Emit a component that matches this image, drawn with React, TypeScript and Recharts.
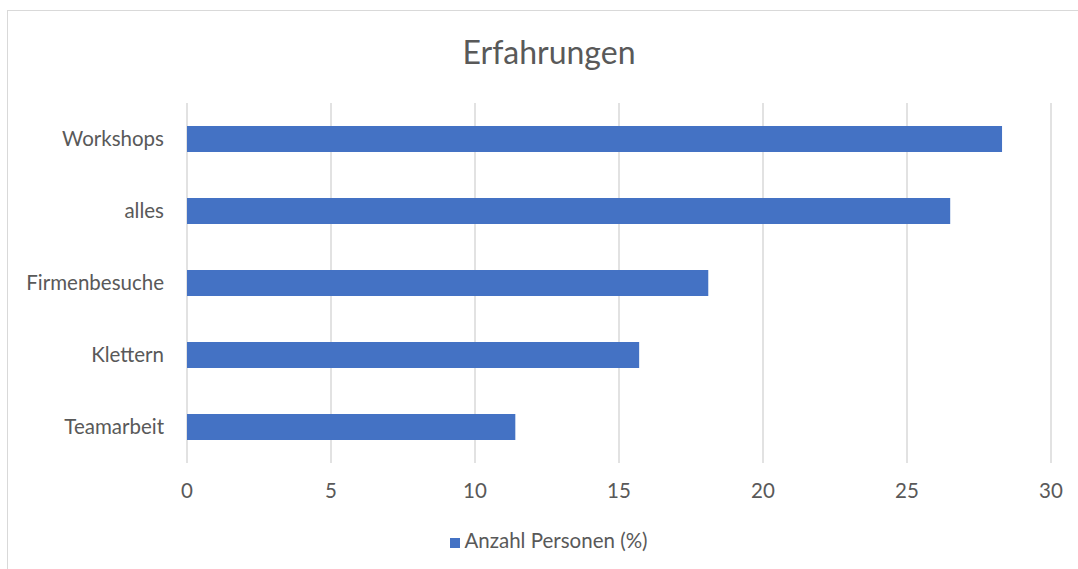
import { BarChart, Bar, XAxis, YAxis, CartesianGrid, Legend } from "recharts";

const categories = ["Workshops", "alles", "Firmenbesuche", "Klettern", "Teamarbeit"];
const anzahlPersonen = [28.3, 26.5, 18.1, 15.7, 11.4];
const xTicks = [0, 5, 10, 15, 20, 25, 30];

const data = categories.map((name, i) => ({ name, value: anzahlPersonen[i] }));

const FONT = "Lato, 'Open Sans', sans-serif";
const TEXT = "#595959";

export default function App() {
  return (
    <div
      style={{
        position: "fixed",
        left: 0,
        top: 0,
        width: 1078,
        height: 569,
        background: "#fff",
        overflow: "hidden",
        fontFamily: FONT,
      }}
    >
      {/* chart frame, open to the right and bottom */}
      <div
        style={{
          position: "absolute",
          left: 7,
          top: 10,
          width: 1100,
          height: 600,
          borderLeft: "1.5px solid #d9d9d9",
          borderTop: "1.5px solid #d9d9d9",
        }}
      />
      <div
        style={{
          position: "absolute",
          left: 0,
          width: 1098,
          top: 32,
          textAlign: "center",
          fontSize: 32,
          color: TEXT,
          lineHeight: "40px",
        }}
      >
        Erfahrungen
      </div>
      <div style={{ position: "absolute", left: 0, top: 0 }}>
        <BarChart
          width={1078}
          height={569}
          data={data}
          layout="vertical"
          margin={{ top: 103, right: 27, bottom: 66, left: 0 }}
        >
          <CartesianGrid horizontal={false} stroke="#d9d9d9" strokeWidth={1.5} />
          <XAxis
            type="number"
            domain={[0, 30]}
            ticks={xTicks}
            axisLine={false}
            tickLine={false}
            tickSize={0}
            tickMargin={20}
            height={40}
            tick={{ fill: TEXT, fontSize: 20.5, fontFamily: FONT }}
          />
          <YAxis
            type="category"
            dataKey="name"
            width={187}
            axisLine={false}
            tickLine={false}
            tickSize={0}
            tickMargin={23}
            tick={{ fill: TEXT, fontSize: 20.5, fontFamily: FONT }}
          />
          <Legend
            layout="horizontal"
            verticalAlign="middle"
            align="center"
            iconType="square"
            iconSize={10}
            wrapperStyle={{ top: 528, left: 0, width: 1108, fontFamily: FONT, fontSize: 20.5 }}
            formatter={(v) => <span style={{ color: TEXT }}>{v}</span>}
          />
          <Bar
            dataKey="value"
            name="Anzahl Personen (%)"
            fill="#4472C4"
            barSize={26}
            isAnimationActive={false}
          />
        </BarChart>
      </div>
    </div>
  );
}
